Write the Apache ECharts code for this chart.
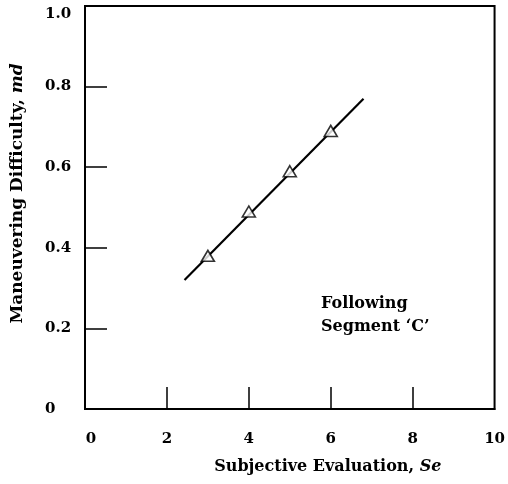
<!DOCTYPE html>
<html>
<head>
<meta charset="utf-8">
<script src="https://cdn.jsdelivr.net/npm/echarts@6/dist/echarts.min.js"></script>
<style>html,body{margin:0;padding:0;background:#fff}#c{width:508px;height:484px}</style>
</head>
<body>
<div id="c"></div>
<script>
// Data
const pointX = [3, 4, 5, 6];
const pointY = [0.38, 0.49, 0.59, 0.69];
const fitLineX = [2.43, 6.8];
const fitLineY = [0.32, 0.77];
const xTickValues = [0, 2, 4, 6, 8, 10];
const yTickValues = [0, 0.2, 0.4, 0.6, 0.8, 1.0];
const xInnerTicks = [2, 4, 6, 8];
const yInnerTicks = [0.2, 0.4, 0.6, 0.8];
const annotationText = 'Following\nSegment \u2018C\u2019';

const FONT = '"DejaVu Serif", "Liberation Serif", serif';

const chart = echarts.init(document.getElementById('c'), null, {renderer: 'canvas'});
chart.setOption({
  animation: false,
  backgroundColor: '#fff',
  grid: {
    left: 85, right: 12, top: 6, bottom: 75,
    show: true, borderColor: '#000', borderWidth: 2, backgroundColor: 'transparent'
  },
  xAxis: {
    type: 'value', min: 0, max: 10, interval: 2,
    splitLine: {show: false},
    axisLine: {show: true, lineStyle: {color: '#000', width: 2}},
    axisTick: {show: true, inside: true, length: 22, customValues: xInnerTicks,
      lineStyle: {color: '#000', width: 1.5}},
    axisLabel: {
      margin: 23, color: '#000', fontFamily: FONT, fontWeight: 'bold', fontSize: 15,
      customValues: xTickValues,
      formatter: v => v === 0 ? '{z|0}' : String(v),
      rich: {z: {padding: [0, 0, 0, 12], fontFamily: FONT, fontWeight: 'bold', fontSize: 15, color: '#000'}}
    },
    name: 'Subjective Evaluation, {i|Se}',
    nameLocation: 'middle', nameGap: 50,
    nameTextStyle: {
      color: '#000', fontFamily: FONT, fontWeight: 'bold', fontSize: 16,
      padding: [0, 0, 0, 76],
      rich: {i: {fontStyle: 'italic', fontWeight: 'bold', fontFamily: FONT, fontSize: 16, color: '#000'}}
    }
  },
  yAxis: {
    type: 'value', min: 0, max: 1.0, interval: 0.2,
    splitLine: {show: false},
    axisLine: {show: true, lineStyle: {color: '#000', width: 2}},
    axisTick: {show: true, inside: true, length: 22, customValues: yInnerTicks,
      lineStyle: {color: '#000', width: 1.5}},
    axisLabel: {
      margin: 40, align: 'left', color: '#000', fontFamily: FONT, fontWeight: 'bold', fontSize: 15,
      customValues: yTickValues,
      formatter: v => {
        if (v === 0) return '0';
        if (Math.abs(v - 1) < 1e-9) return '{t|1.0}';
        return v.toFixed(1);
      },
      rich: {t: {padding: [16, 0, 0, 0], fontFamily: FONT, fontWeight: 'bold', fontSize: 15, color: '#000'}}
    },
    name: 'Maneuvering Difficulty, {i|md}',
    nameLocation: 'middle', nameGap: 59,
    nameTextStyle: {
      color: '#000', fontFamily: FONT, fontWeight: 'bold', fontSize: 17,
      padding: [0, 0, 0, 28],
      rich: {i: {fontStyle: 'italic', fontWeight: 'bold', fontFamily: FONT, fontSize: 17, color: '#000'}}
    }
  },
  graphic: [{
    type: 'text', left: 321, top: 292,
    style: {
      text: annotationText, fill: '#000',
      font: 'bold 16px ' + FONT, lineHeight: 23
    }
  }],
  series: [
    {
      type: 'line',
      data: fitLineX.map((x, i) => [x, fitLineY[i]]),
      showSymbol: false, symbol: 'none',
      lineStyle: {color: '#000', width: 2.2},
      z: 2
    },
    {
      type: 'scatter',
      data: pointX.map((x, i) => [x, pointY[i]]),
      symbol: 'triangle', symbolSize: [13, 11],
      itemStyle: {color: '#fff', borderColor: '#000', borderWidth: 1.6},
      z: 3
    }
  ]
});
</script>
</body>
</html>
